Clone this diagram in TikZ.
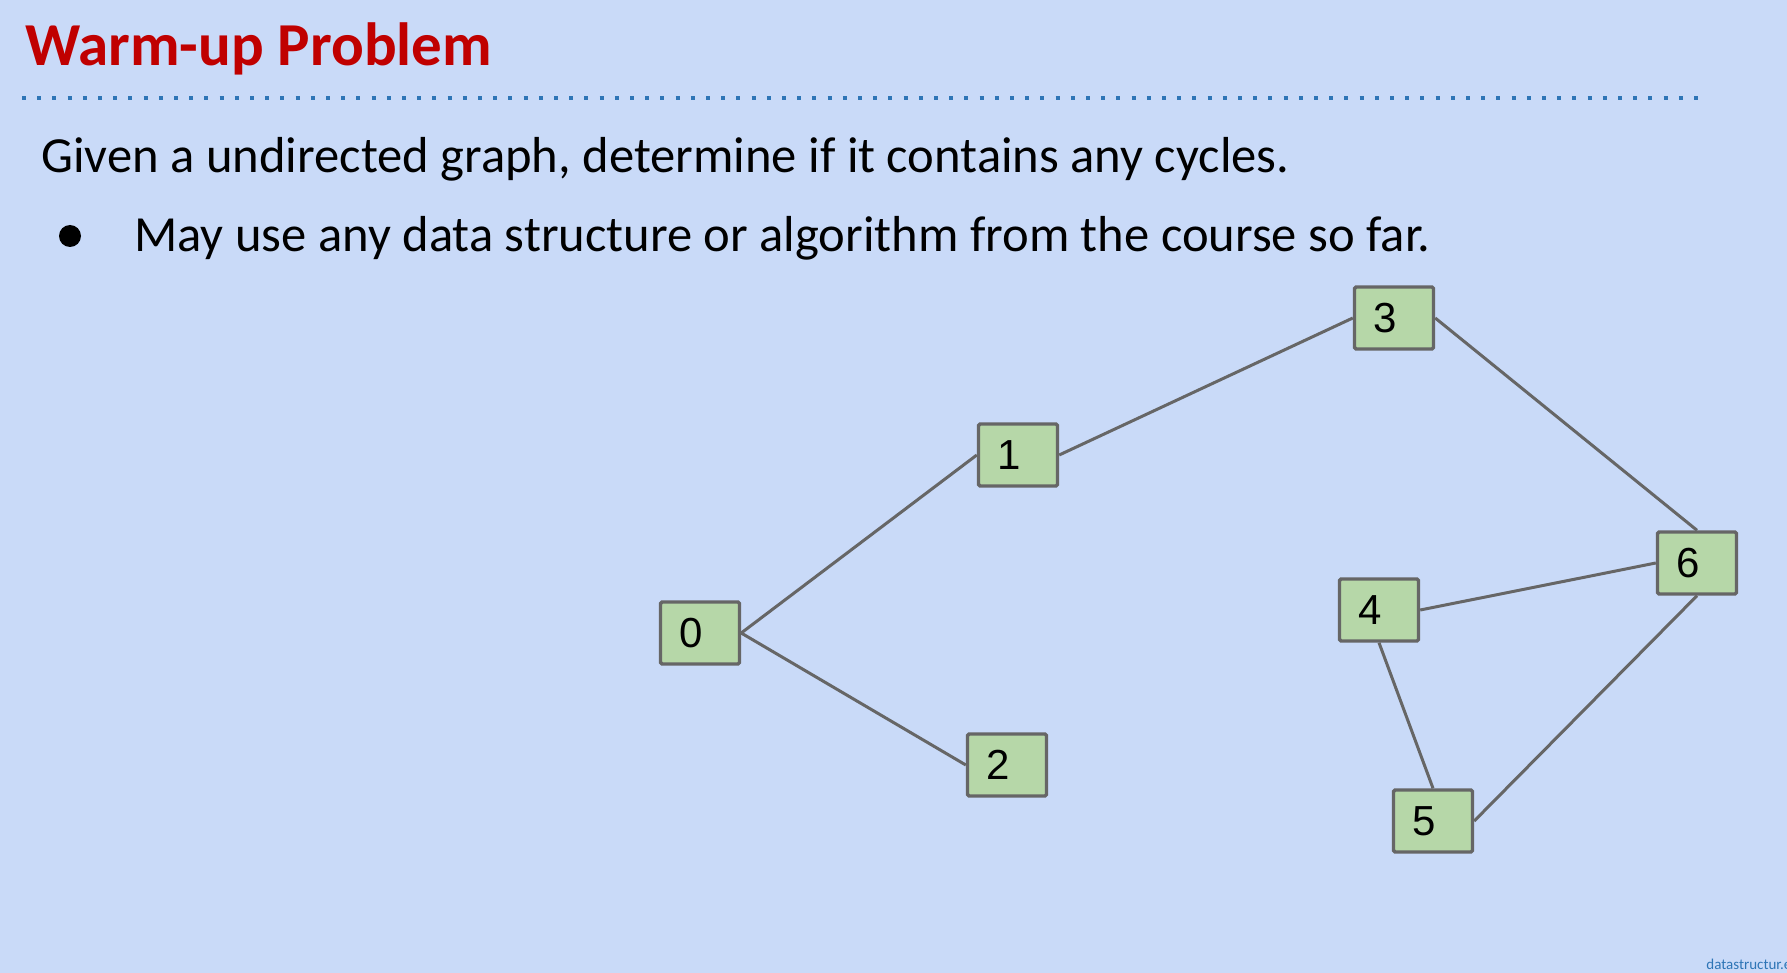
\documentclass[tikz,border=0pt]{standalone}
\usepackage{fontspec}
\setmainfont{Carlito}
\newfontfamily\arialfont{Liberation Sans}
\usepackage{xcolor}
\usetikzlibrary{positioning}
\definecolor{slidebg}{HTML}{C9DAF8}
\definecolor{titlered}{HTML}{C00000}
\definecolor{dotblue}{HTML}{2E75B6}
\definecolor{vertexfill}{HTML}{B6D7A8}
\definecolor{edgegray}{HTML}{666666}

\begin{document}
\begin{tikzpicture}[
  x=0.5pt, y=-0.5pt,
  vertex/.style={draw=edgegray, line width=1.7pt, rounded corners=0.8pt, fill=vertexfill,
                 minimum width=39.5pt, minimum height=31pt, inner sep=0pt,
                 font=\arialfont\fontsize{21}{24}\selectfont,
                 execute at begin node={\kern-8.5pt}},
  edge/.style={draw=edgegray, line width=1.5pt},
  body/.style={anchor=base west, inner sep=0pt, font=\fontsize{25.3}{30}\selectfont}
]
\fill[slidebg] (0,0) rectangle (1787,973);
\useasboundingbox (0,0) rectangle (1787,973);

% heading
\node[anchor=base west, inner sep=0pt, text=titlered, font=\bfseries\fontsize{30.5}{36}\selectfont] (title) at (25,66) {Warm-up Problem};
\draw[dotblue, line width=2pt, dash pattern=on 2pt off 5.6pt] (22,98) -- (1701,98);

\node[body] (given) at (41,173) {Given a undirected graph, determine if it contains any cycles.};
\node[circle, fill=black, inner sep=0pt, minimum size=11pt] (bullet) at (70,236) {};
\node[body] (may) at (134,251) {May use any data structure or algorithm from the course so far.};

% graph
\node[vertex] (v0) at (700,633) {0};
\node[vertex] (v1) at (1018,455) {1};
\node[vertex] (v2) at (1007,765) {2};
\node[vertex] (v3) at (1394,318) {3};
\node[vertex] (v4) at (1379,610) {4};
\node[vertex] (v5) at (1433,821) {5};
\node[vertex] (v6) at (1697,563) {6};

\draw[edge] (v0.east) -- (v1.west);
\draw[edge] (v0.east) -- (v2.west);
\draw[edge] (v1.east) -- (v3.west);
\draw[edge] (v3.east) -- (v6.north);
\draw[edge] (v4.east) -- (v6.west);
\draw[edge] (v4.south) -- (v5.north);
\draw[edge] (v5.east) -- (v6.south);

\node[anchor=base west, inner sep=0pt, text=dotblue, font=\fontsize{7.5}{9}\selectfont] (site) at (1706,969) {datastructur.es};
\end{tikzpicture}
\end{document}
